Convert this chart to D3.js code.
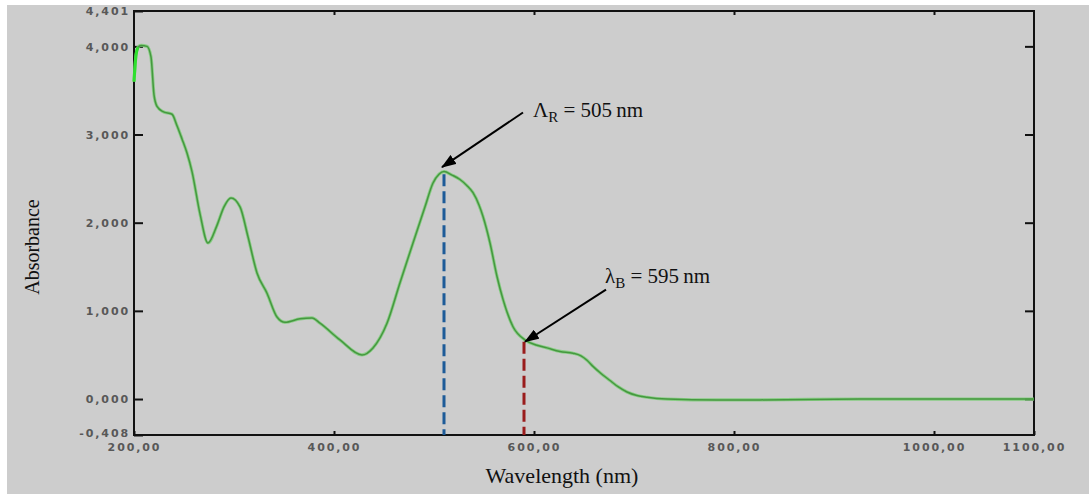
<!DOCTYPE html>
<html>
<head>
<meta charset="utf-8">
<script src="https://cdn.jsdelivr.net/npm/d3@7"></script>
<style>
  body { margin: 0; background: #fff; }
  .tick text { font-family: "DejaVu Sans", sans-serif; font-size: 11px; font-weight: bold; letter-spacing: 1.9px; fill: #585858; }
  .title { font-family: "Liberation Serif", "Times New Roman", serif; fill: #111; }
</style>
</head>
<body>
<svg id="chart" width="1089" height="494"></svg>
<script>
// spectrum (nm, absorbance)
const wavelength = [200, 202, 204, 207, 213, 217, 220, 223, 229, 238, 243, 248, 253, 258, 266, 274, 283, 290, 297, 306,
  314, 323, 333, 343, 351, 366, 378, 386, 406, 428, 439, 453, 466, 479, 491, 499, 505, 510, 518, 526,
  533, 539, 545, 549, 556, 563, 569, 579, 591, 603, 613, 626, 639, 647, 653, 659, 667, 676, 684, 693,
  703, 713, 733, 783, 826, 926, 1000, 1100];
const absorbance = [3.60, 3.90, 3.99, 4.01, 4.00, 3.88, 3.45, 3.32, 3.26, 3.23, 3.10, 2.95, 2.79, 2.58, 2.10, 1.77, 1.97, 2.18, 2.28, 2.18,
  1.84, 1.43, 1.20, 0.93, 0.87, 0.91, 0.92, 0.86, 0.67, 0.50, 0.58, 0.86, 1.32, 1.77, 2.18, 2.45, 2.55, 2.58, 2.54, 2.49,
  2.42, 2.34, 2.20, 2.07, 1.77, 1.39, 1.13, 0.82, 0.67, 0.61, 0.58, 0.54, 0.52, 0.49, 0.44, 0.37, 0.29, 0.21, 0.14, 0.08,
  0.04, 0.02, 0.00, -0.01, -0.01, 0.00, 0.00, 0.00];

const xTicks = [200, 400, 600, 800, 1000, 1100];
const yTicks = [-0.408, 0, 1, 2, 3, 4, 4.401];

// the two marked wavelengths: dashed line position, arrow tip/tail, label spot
const markers = [
  { sym: "\u039B", sub: "R", label: "505", lineNm: 510, lineTop: 2.55, color: "#1d5b98",
    tip: [508, 2.63], tail: [589, 3.25], text: [599, 3.20] },
  { sym: "\u03BB", sub: "B", label: "595", lineNm: 590, lineTop: 0.65, color: "#9a1c1c",
    tip: [591, 0.65], tail: [672, 1.24], text: [671, 1.32] }
];

const svg = d3.select("#chart");
const W = +svg.attr("width"), H = +svg.attr("height");
const margin = { top: 11, right: 55, bottom: 59, left: 134 };
const width = W - margin.left - margin.right;
const height = H - margin.top - margin.bottom;

svg.append("rect").attr("x", 7).attr("y", 5).attr("width", W - 7).attr("height", H - 5).attr("fill", "#cdcdcd");

const g = svg.append("g").attr("transform", `translate(${margin.left},${margin.top})`);

const x = d3.scaleLinear().domain([200, 1100]).range([0, width]);
const y = d3.scaleLinear().domain([-0.408, 4.401]).range([height, 0]);

const loc = d3.formatLocale({ decimal: ",", thousands: "", grouping: [3], currency: ["", ""], minus: "-" });
const fx = loc.format(".2f"), fy = loc.format(".3f");

g.append("g")
  .attr("transform", `translate(0,${height})`)
  .call(d3.axisBottom(x).tickValues(xTicks).tickFormat(fx).tickSizeInner(-4).tickSizeOuter(0).tickPadding(8));
const yAxis = g.append("g")
  .call(d3.axisLeft(y).tickValues(yTicks).tickFormat(fy).tickSizeInner(-9).tickSizeOuter(0).tickPadding(4));
g.append("g")
  .call(d3.axisTop(x).tickValues(xTicks.slice(1, 5)).tickFormat("").tickSizeInner(-4).tickSizeOuter(0));
g.append("g")
  .attr("transform", `translate(${width},0)`)
  .call(d3.axisRight(y).tickValues([0, 1, 2, 3, 4]).tickFormat("").tickSizeInner(-9).tickSizeOuter(0));

g.selectAll(".domain").remove();
g.selectAll(".tick line").attr("stroke", "#111").attr("stroke-width", 2);
yAxis.selectAll(".tick text").attr("dy", d => d === yTicks[0] ? "0.1em" : "0.35em");

g.append("rect")
  .attr("width", width).attr("height", height)
  .attr("fill", "none").attr("stroke", "#111").attr("stroke-width", 2);

// dashed guide lines
g.selectAll(".guide")
  .data(markers)
  .enter()
  .append("line")
  .attr("x1", d => x(d.lineNm)).attr("x2", d => x(d.lineNm))
  .attr("y1", d => y(d.lineTop)).attr("y2", height)
  .attr("stroke", d => d.color)
  .attr("stroke-width", 3)
  .attr("stroke-dasharray", "12,5");

// spectrum
const pts = wavelength.map((w, i) => [w, absorbance[i]]);
const line = d3.line().x(d => x(d[0])).y(d => y(d[1])).curve(d3.curveMonotoneX);
g.append("path").datum(pts).attr("d", line)
  .attr("fill", "none").attr("stroke", "#7ccc78").attr("stroke-width", 3.2).attr("opacity", 0.85);
g.append("path").datum(pts).attr("d", line)
  .attr("fill", "none").attr("stroke", "#45983f").attr("stroke-width", 1.5);
g.append("path").datum(pts.slice(0, 3)).attr("d", line)
  .attr("fill", "none").attr("stroke", "#2ee02e").attr("stroke-width", 3);

// arrows + labels
svg.append("defs").append("marker")
  .attr("id", "head")
  .attr("viewBox", "0 0 14 10")
  .attr("refX", 13).attr("refY", 5)
  .attr("markerWidth", 15).attr("markerHeight", 11)
  .attr("markerUnits", "userSpaceOnUse")
  .attr("orient", "auto")
  .append("path").attr("d", "M0,0L14,5L0,10Z").attr("fill", "#000");

g.selectAll(".arrow")
  .data(markers)
  .enter()
  .append("line")
  .attr("x1", d => x(d.tail[0])).attr("y1", d => y(d.tail[1]))
  .attr("x2", d => x(d.tip[0])).attr("y2", d => y(d.tip[1]))
  .attr("stroke", "#000").attr("stroke-width", 2)
  .attr("marker-end", "url(#head)");

const lab = g.selectAll(".lab")
  .data(markers)
  .enter()
  .append("text")
  .attr("class", "title")
  .attr("x", d => x(d.text[0])).attr("y", d => y(d.text[1]))
  .style("font-size", "21px");
lab.append("tspan").text(d => d.sym);
lab.append("tspan").attr("dy", 5).style("font-size", "15px").text(d => d.sub);
lab.append("tspan").attr("dy", -5).text(d => ` = ${d.label}\u2009nm`);

svg.append("text").attr("class", "title")
  .attr("x", 562).attr("y", 483)
  .attr("text-anchor", "middle").style("font-size", "22px")
  .text("Wavelength  (nm)");
svg.append("text").attr("class", "title")
  .attr("transform", `translate(39,247) rotate(-90)`)
  .attr("text-anchor", "middle").style("font-size", "20px")
  .text("Absorbance");
</script>
</body>
</html>
